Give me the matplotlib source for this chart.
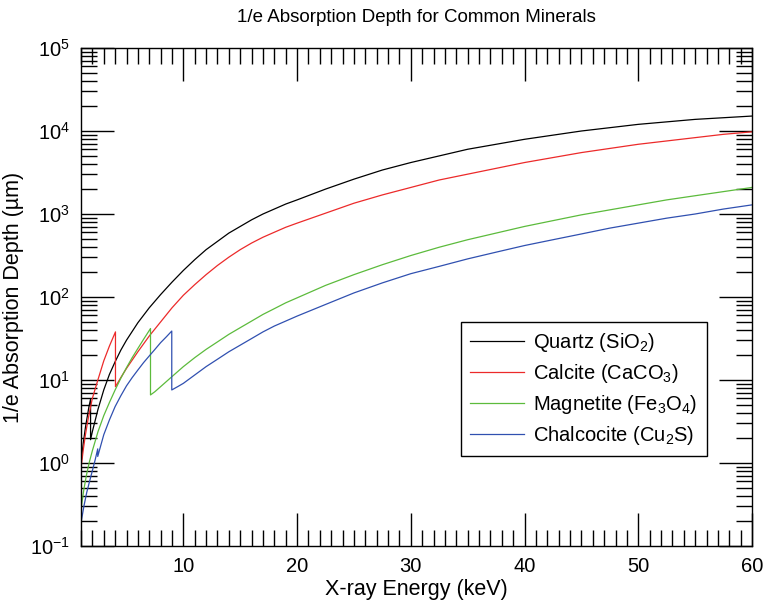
import matplotlib
matplotlib.use('Agg')
import matplotlib.pyplot as plt
from matplotlib.ticker import MultipleLocator, FixedLocator

plt.rcParams['font.family'] = ['Liberation Sans', 'DejaVu Sans']
plt.rcParams['mathtext.default'] = 'regular'

# Energias (keV) y profundidad 1/e (um)
quartz_e = [1.0, 1.2, 1.4, 1.6, 1.7, 1.84, 1.84, 2.0, 2.5, 3.0, 3.5, 4.0, 4.5, 5.0, 6.0, 7.0, 8.0, 9.0,
            10, 11, 12, 13, 14, 15, 16, 17, 18, 19, 20, 22.5, 25, 27.5, 30, 32.5, 35, 37.5, 40,
            42.5, 45, 47.5, 50, 52.5, 55, 57.5, 60]
quartz_d = [1.0, 1.74, 2.75, 3.98, 4.79, 5.89, 1.91, 2.40, 4.47, 7.59, 11.7, 16.6, 22.9, 30.2, 49.0, 74.1, 107, 151,
            209, 282, 372, 468, 589, 708, 851, 1000, 1148, 1318, 1479, 1995, 2630, 3388, 4169, 5012, 6026, 6918, 7943,
            8913, 10000, 10965, 12023, 12882, 13804, 14454, 15136]

calcite_e = [1.0, 1.2, 1.4, 1.6, 1.8, 2.0, 2.5, 3.0, 3.5, 4.03, 4.03, 4.5, 5.0, 6.0, 7.0, 8.0, 9.0,
             10, 11, 12, 13, 14, 15, 16, 17, 18, 19, 20, 22.5, 25, 27.5, 30, 32.5, 35, 37.5, 40,
             42.5, 45, 47.5, 50, 52.5, 55, 57.5, 60]
calcite_d = [0.87, 1.45, 2.24, 3.24, 4.47, 6.03, 10.2, 17.0, 25.7, 38.0, 8.32, 10.7, 13.8, 21.9, 33.9, 50.1, 74.1,
             105, 141, 186, 240, 302, 372, 447, 525, 603, 692, 776, 1023, 1349, 1698, 2089, 2570, 3020, 3548, 4169,
             4786, 5495, 6166, 6918, 7586, 8318, 9120, 9772]

magnetite_e = [1.0, 1.25, 1.5, 1.75, 2.0, 2.5, 3.0, 3.5, 4.0, 4.5, 5.0, 5.5, 6.0, 6.5, 7.11, 7.11, 7.5, 8.0, 9.0,
               10, 11, 12, 13, 14, 15, 16, 17, 18, 19, 20, 22.5, 25, 27.5, 30, 32.5, 35, 37.5, 40,
               42.5, 45, 47.5, 50, 52.5, 55, 57.5, 60]
magnetite_d = [0.28, 0.48, 0.74, 1.05, 1.41, 2.40, 3.72, 5.37, 7.59, 10.5, 14.1, 18.6, 24.0, 30.9, 41.7, 6.61, 7.24, 8.32, 11.0,
               14.5, 18.6, 23.4, 28.8, 35.5, 42.7, 51.3, 61.7, 72.4, 85.1, 97.7, 138, 186, 245, 316, 398, 490, 589, 708,
               832, 977, 1122, 1288, 1479, 1660, 1862, 2089]

chalcocite_e = [1.0, 1.25, 1.5, 1.75, 2.0, 2.25, 2.47, 2.47, 3.0, 3.5, 4.0, 4.5, 5.0, 5.5, 6.0, 6.5, 7.0, 7.5, 8.0, 8.5,
                8.98, 8.98, 9.5, 10, 11, 12, 13, 14, 15, 16, 17, 18, 19, 20, 22.5, 25, 27.5, 30, 32.5, 35, 37.5, 40,
                42.5, 45, 47.5, 50, 52.5, 55, 57.5, 60]
chalcocite_d = [0.19, 0.30, 0.44, 0.60, 0.81, 1.10, 1.48, 1.20, 2.19, 3.31, 4.79, 6.46, 8.51, 10.7, 13.2, 16.2, 19.5, 23.4,
                28.2, 33.1, 38.9, 7.59, 8.32, 9.12, 11.5, 14.5, 17.8, 21.9, 26.3, 31.6, 38.0, 44.7, 51.3, 58.9, 81.3, 112,
                148, 191, 234, 288, 347, 417, 490, 575, 676, 776, 891, 1000, 1148, 1288]

y_major = [1e-1, 1e0, 1e1, 1e2, 1e3, 1e4, 1e5]
y_minor = [m * 10.0 ** p for p in range(-1, 5) for m in range(2, 10)]

series = [
    (quartz_e, quartz_d, 'black', 'Quartz (SiO$_2$)'),
    (calcite_e, calcite_d, '#ec2a2a', 'Calcite (CaCO$_3$)'),
    (magnetite_e, magnetite_d, '#5cbb3c', 'Magnetite (Fe$_3$O$_4$)'),
    (chalcocite_e, chalcocite_d, '#3050b0', 'Chalcocite (Cu$_2$S)'),
]

fig = plt.figure(figsize=(7.65, 6.09), dpi=100)
ax = fig.add_axes([0.1059, 0.1034, 0.8771, 0.8178])

for e, d, c, lab in series:
    ax.plot(e, d, color=c, lw=0.9, label=lab)

ax.set_yscale('log')
ax.set_xlim(1, 60)
ax.set_ylim(0.1, 1e5)

ax.xaxis.set_major_locator(FixedLocator([10, 20, 30, 40, 50, 60]))
ax.xaxis.set_minor_locator(MultipleLocator(1))
ax.yaxis.set_major_locator(FixedLocator(y_major))
ax.yaxis.set_minor_locator(FixedLocator(y_minor))

ax.tick_params(which='both', direction='in', top=True, right=True, width=1.0, labelsize=14.5)
ax.tick_params(which='major', length=23.5)
ax.tick_params(which='minor', length=11.5)
ax.tick_params(axis='x', pad=8)
ax.tick_params(axis='y', pad=8)
for s in ax.spines.values():
    s.set_linewidth(1.0)

ax.set_xlabel('X-ray Energy (keV)', fontsize=15.5, labelpad=2)
ax.set_ylabel('1/e Absorption Depth (µm)', fontsize=15.5, labelpad=4)
ax.set_title('1/e Absorption Depth for Common Minerals', fontsize=13.5, pad=19)

leg = ax.legend(loc='upper left', bbox_to_anchor=(0.566, 0.45), borderaxespad=0, fontsize=14.5,
                frameon=True, fancybox=False, edgecolor='black', framealpha=1, handlelength=2.7,
                borderpad=0.45, labelspacing=0.4, handletextpad=0.45)
leg.get_frame().set_linewidth(1.0)

fig.savefig('out.png', dpi=100)
